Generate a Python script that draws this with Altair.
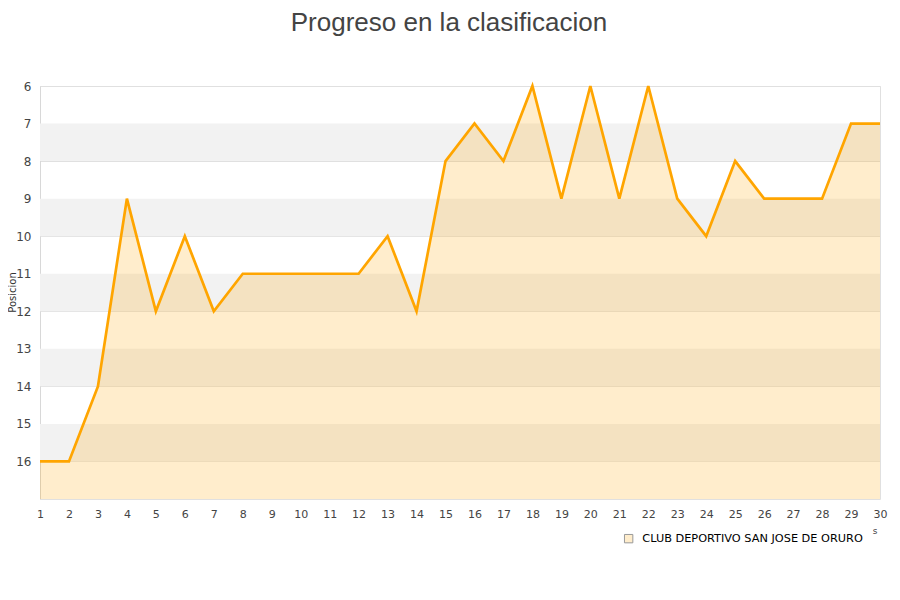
import altair as alt
import pandas as pd

jornadas = list(range(1, 31))
posiciones = [16, 16, 14, 9, 12, 10, 12, 11, 11, 11, 11, 11, 10, 12, 8, 7, 8, 6, 9, 6, 9, 6, 9, 10, 8, 9, 9, 9, 7, 7]
equipo = "CLUB DEPORTIVO SAN JOSE DE ORURO"
band_starts = [7, 9, 11, 13, 15]
y_ticks = list(range(6, 17))

df = pd.DataFrame({"jornada": jornadas, "pos": posiciones, "team": [equipo] * len(jornadas)})
bands = pd.DataFrame({"y0": band_starts, "y1": [b + 1 for b in band_starts]})

yscale = alt.Scale(domain=[6, 17], reverse=True, nice=False, zero=False)
xscale = alt.Scale(domain=[1, 30], nice=False, zero=False)

x_axis = alt.Axis(values=jornadas, title=None, ticks=False, domain=False,
                  grid=False, labelPadding=9, labelFontSize=11,
                  labelOverlap=False, labelFlush=False,
                  labelColor="#444", labelFont="DejaVu Sans", format="d")
y_axis = alt.Axis(values=y_ticks, title="Posicion", titleFontSize=10,
                  titleFont="DejaVu Sans", titleColor="#333", titleFontWeight="normal",
                  titleX=-28, titleY=206, titleAngle=-90, titleAlign="center",
                  titleBaseline="middle",
                  ticks=False, domain=True, domainColor="#d8d8d8",
                  grid=True, gridColor="#e0e0e0", labelPadding=9,
                  labelOverlap=False,
                  labelFontSize=12, labelColor="#444", labelFont="DejaVu Sans", format="d")

band_layer = alt.Chart(bands).mark_rect(fill="#f2f2f2").encode(
    y=alt.Y("y0:Q", scale=yscale, axis=y_axis),
    y2="y1:Q",
    x=alt.value(0),
    x2=alt.value(840),
)

area = alt.Chart(df).mark_area(interpolate="linear").encode(
    x=alt.X("jornada:Q", scale=xscale, axis=x_axis),
    y=alt.Y("pos:Q", scale=yscale, axis=y_axis),
    y2=alt.datum(17),
    fill=alt.Fill("team:N", scale=alt.Scale(domain=[equipo], range=["rgba(255,165,0,0.2)"]),
                  legend=alt.Legend(title=None, orient="none", legendX=583, legendY=447,
                                    symbolType="square", symbolSize=70,
                                    symbolStrokeColor="#999", symbolStrokeWidth=1,
                                    labelOffset=8,
                                    labelFont="DejaVu Sans", labelFontSize=11.3,
                                    labelColor="#000", labelLimit=400)),
)

line = alt.Chart(df).mark_line(color="#ffa500", strokeWidth=2.7, interpolate="linear").encode(
    x=alt.X("jornada:Q", scale=xscale, axis=x_axis),
    y=alt.Y("pos:Q", scale=yscale, axis=y_axis),
)

stray = alt.Chart(pd.DataFrame({"t": ["s"]})).mark_text(
    fontSize=9, font="DejaVu Sans", color="#444"
).encode(text="t:N", x=alt.value(835), y=alt.value(445))

chart = alt.layer(band_layer, area, line, stray).properties(
    width=840,
    height=413,
    title=alt.TitleParams("Progreso en la clasificacion", font="Liberation Sans",
                          fontSize=26, fontWeight="normal", color="#444",
                          anchor="middle", dx=-11, offset=44),
    autosize=alt.AutoSizeParams(type="none"),
    padding={"left": 32, "top": 78, "right": 12, "bottom": 80},
).configure_view(stroke="#e0e0e0", strokeWidth=1).configure_axisX(
    labelOverlap=False, labelFlush=False
)

chart.save("out.html", embed_options={"renderer": "svg", "actions": False})
